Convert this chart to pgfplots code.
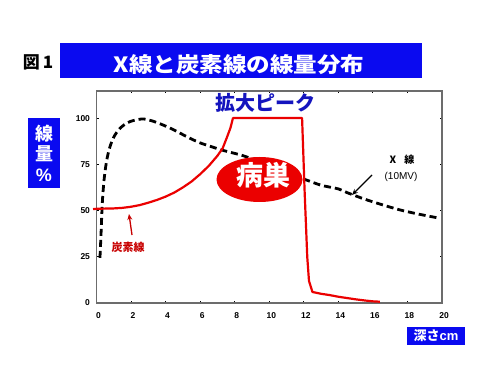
\documentclass[border=0pt]{standalone}
\usepackage{fontspec}
\setmainfont{Liberation Sans}
\newfontfamily\jp{Noto Sans CJK JP}
\usepackage{pgfplots}
\pgfplotsset{compat=1.18}
\usetikzlibrary{arrows.meta}
\definecolor{titleblue}{RGB}{10,10,240}
\definecolor{peakblue}{RGB}{20,20,190}
\definecolor{cred}{RGB}{235,0,0}
\definecolor{darkred}{RGB}{200,0,0}
\begin{document}
\begin{tikzpicture}
\path[use as bounding box, fill=white] (0pt,0pt) rectangle (500pt,391pt);
\begin{axis}[at={(96.5pt,88pt)}, anchor=south west, scale only axis,
  width=345.5pt, height=212pt,
  xmin=0, xmax=20, ymin=0, ymax=115.2, clip=false,
  xtick={0,2,...,20}, ytick={0,25,50,75,100},
  tick align=inside, major tick length=2pt,
  axis line style={draw=gray!85!black, line width=1.3pt},
  tick style={black, line width=1pt},
  tick label style={font=\bfseries\fontsize{8.5}{9}\selectfont},
  /pgf/number format/assume math mode=true,
  xticklabel style={yshift=-6pt, xshift=2pt},
  yticklabel style={xshift=-3pt}]
% X-ray (10MV)
\addplot[black, line width=2.8pt, dash pattern=on 7pt off 4pt, smooth, tension=0.5] coordinates {
(0.2,24.5)(0.26,37)(0.34,55)(0.45,68)(0.6,78)(0.8,85.5)(1.05,91)(1.4,95.3)(1.8,98)(2.2,99.3)(2.7,100)(3.2,99)(3.7,97.3)(4.2,95.3)(4.7,93)(5.3,90)(6,87)(6.7,84.8)(7.3,83)(8.5,80)(9.5,76.5)(10.5,72.5)(11.3,69.5)(12.1,67)(13,64)(14,62)(14.5,60)(15.5,56.5)(16.5,53.5)(17.6,50.5)(18.8,48)(19.9,46)};
% carbon
\addplot[cred, line width=2.2pt, line join=round] coordinates {
(-0.2,51)(0,51.2)(0.5,51.3)(1,51.4)(1.5,51.7)(2,52.3)(2.5,53.2)(3,54.5)(3.5,56)(4,57.8)(4.5,60)(5,62.8)(5.5,66)(6,70)(6.5,74.5)(7,80)(7.3,84)(7.55,90)(7.75,95)(7.9,100.5)(11.9,100.5)(12.05,60)(12.2,25)(12.3,12)(12.5,6)(13,5)(13.5,4.3)(14,3.4)(14.5,2.7)(15,2)(15.5,1.4)(16,0.9)(16.4,0.7)};
\end{axis}
% title
\fill[titleblue] (60pt,313pt) rectangle (422pt,348pt);
\node[anchor=base, text=white, inner sep=0pt, xscale=1.12, font=\jp\bfseries\fontsize{21}{21}\selectfont] at (239pt,318pt) {X線と炭素線の線量分布};
\node[anchor=base, text=black, inner sep=0pt, font=\jp\bfseries\fontsize{17}{17}\selectfont] at (38pt,322pt) {図\hspace{3pt}1};
% y label
\fill[titleblue] (28pt,203pt) rectangle (60pt,273pt);
\node[text=white, inner sep=0pt, font=\jp\bfseries\fontsize{18}{18}\selectfont] at (44pt,257.5pt) {線};
\node[text=white, inner sep=0pt, font=\jp\bfseries\fontsize{18}{18}\selectfont] at (44pt,237.5pt) {量};
\node[text=white, inner sep=0pt, font=\bfseries\fontsize{18}{18}\selectfont] at (44pt,216pt) {\%};
% x label
\fill[titleblue] (407pt,46pt) rectangle (465pt,64pt);
\node[text=white, inner sep=0pt, font=\bfseries\fontsize{13}{13}\selectfont] at (436pt,55pt) {{\jp 深さ}cm};
% annotations
\node[text=peakblue, inner sep=0pt, font=\jp\bfseries\fontsize{20}{20}\selectfont] at (265pt,288pt) {拡大ピーク};
\fill[cred] (259.5pt,211.5pt) ellipse [x radius=43pt, y radius=22.5pt];
\node[text=white, inner sep=0pt, font=\jp\bfseries\fontsize{27}{27}\selectfont] at (263pt,216pt) {病巣};
\node[text=black, inner sep=0pt, font=\jp\bfseries\fontsize{10}{10}\selectfont] at (402pt,231pt) {X\hspace{8pt}線};
\node[text=black, inner sep=0pt, font=\fontsize{10}{10}\selectfont] at (401pt,214pt) {(10MV)};
\draw[black, line width=1.3pt, -{Stealth[length=6pt,width=5pt]}] (372pt,216pt) -- (352pt,196pt);
\node[text=darkred, inner sep=0pt, font=\jp\bfseries\fontsize{11}{11}\selectfont] at (128pt,144pt) {炭素線};
\draw[darkred, line width=1.3pt, -{Stealth[length=6pt,width=5pt]}] (132pt,156pt) -- (129pt,177pt);
\end{tikzpicture}
\end{document}
